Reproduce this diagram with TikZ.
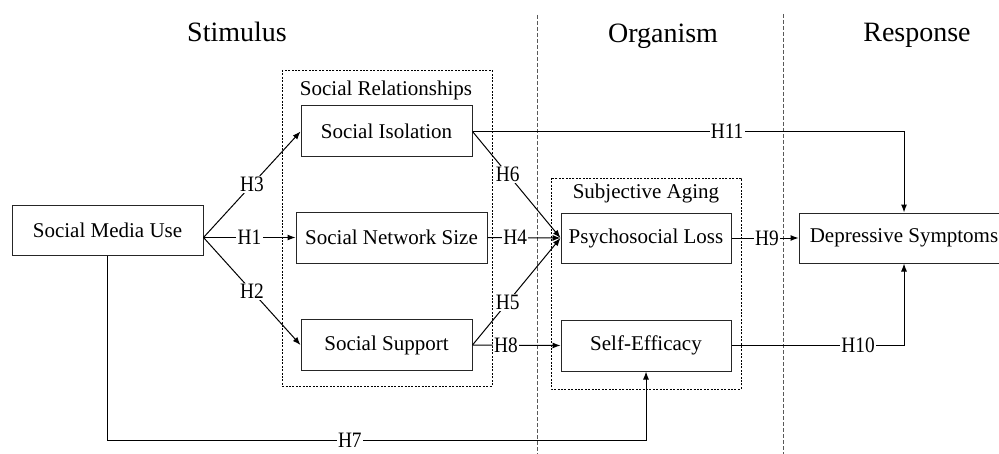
\documentclass[tikz,border=0pt]{standalone}
\usepackage{fontspec}
\setmainfont{Liberation Serif}
\newfontfamily\hypfont[FakeStretch=0.88]{Liberation Serif}
\usepackage{tikz}
\usetikzlibrary{positioning, arrows.meta, calc}

\begin{document}
\begin{tikzpicture}[
  x=0.5pt, y=-0.5pt,
  box/.style={draw=black!85, line width=0.5pt, minimum width=85.5pt, minimum height=25.5pt, font=\fontsize{10.5}{12}\selectfont, inner sep=1pt},
  grp/.style={draw, line width=0.45pt, dash pattern=on 1pt off 0.7pt},
  divider/.style={draw, line width=0.5pt, gray!70!black, dash pattern=on 2pt off 1pt},
  heading/.style={font=\fontsize{14}{16}\selectfont, anchor=base},
  grplbl/.style={font=\fontsize{10.5}{12}\selectfont},
  lbl/.style={fill=white, inner sep=0.6pt, font=\hypfont\fontsize{11}{12}\selectfont},
  arr/.style={-{Latex[length=4pt, width=3pt]}, line width=0.5pt}
]
\useasboundingbox (0,0) rectangle (999,454);

% headings and section dividers
\node[heading] (stim) at (237,42) {Stimulus};
\node[heading] (org) at (663,43) {Organism};
\node[heading] (resp) at (917,42) {Response};
\draw[divider] (537,15) -- (537,454);
\draw[divider] (783,14) -- (783,454);

% group frames
\draw[grp] (282,70) rectangle (492,386);
\node[grplbl] (relLbl) at (386,90) {Social Relationships};
\draw[grp] (551,178) rectangle (741,389);
\node[grplbl] (agingLbl) at (646,193) {Subjective Aging};

% constructs
\node[box, minimum width=95.5pt, minimum height=25pt] (smu) at (107.5,230.5) {Social Media Use};
\node[box] (si) at (386.5,131.5) {Social Isolation};
\node[box, minimum width=95.5pt] (sns) at (391.5,237.5) {Social Network Size};
\node[box] (ss) at (386.5,345) {Social Support};
\node[box, minimum width=85pt, minimum height=25pt] (pl) at (646,238) {Psychosocial Loss};
\node[box, minimum width=85pt] (se) at (646,345.5) {Self-Efficacy};
\node[box, minimum width=105pt, minimum height=25pt] (ds) at (904,238) {Depressive Symptoms};

\coordinate (smuout) at (smu.east |- sns.west);

% hypotheses
\draw[arr] (smuout) -- node[lbl] {H3} (si.west);
\draw[arr] (smuout) -- node[lbl] {H1} (sns.west);
\draw[arr] (smuout) -- node[lbl] {H2} (ss.west);
\draw[arr] (si.east) -- node[lbl, pos=0.4] {H6} (pl.west);
\draw[arr] (sns.east) -- node[lbl, pos=0.38] {H4} (pl.west);
\draw[arr] (ss.east) -- node[lbl, pos=0.4] {H5} (pl.west);
\draw[arr] (ss.east) -- node[lbl, pos=0.38] {H8} (se.west);
\draw[arr] (pl.east) -- node[lbl, pos=0.53] {H9} (ds.west);
\draw[arr] (si.east) -| node[lbl, pos=0.295] {H11} (ds.north);
\draw[arr] (se.east) -| node[lbl, pos=0.367] {H10} (ds.south);
\draw[arr] (smu.south) -- ++(0,184) -| node[lbl, pos=0.225] {H7} (se.south);
\end{tikzpicture}
\end{document}
